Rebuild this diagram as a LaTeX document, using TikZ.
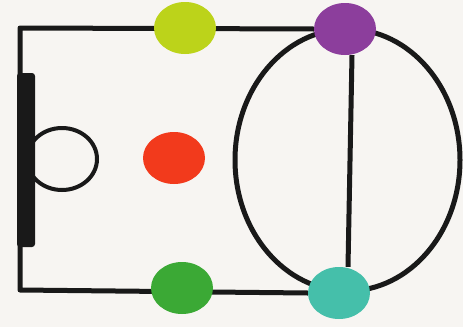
\documentclass[tikz,border=0pt]{standalone}
\usepackage{tikz}
\usetikzlibrary{shapes.geometric,backgrounds}
\definecolor{lima}{HTML}{BCD31A}
\definecolor{rojo}{HTML}{F23A1C}
\definecolor{verde}{HTML}{3BA935}
\definecolor{morado}{HTML}{8C3E9C}
\definecolor{turquesa}{HTML}{45BFAA}
\definecolor{fondo}{HTML}{F7F5F2}
\tikzset{
  dot/.style={ellipse,minimum width=62pt,minimum height=52pt,inner sep=0pt},
  linea/.style={line width=5pt,black!90}
}
\begin{document}
\begin{tikzpicture}[x=1pt,y=-1pt]
    \useasboundingbox (0,0) rectangle (463,327);
    \node[dot,fill=lima] (a) at (185,28) {};
    \node[dot,fill=rojo] (b) at (174,158) {};
    \node[dot,fill=verde] (c) at (182,288) {};
    \node[dot,fill=morado] (d) at (345,29) {};
    \node[dot,fill=turquesa] (e) at (339,293) {};
    \coordinate (tl) at (20,28);
    \coordinate (bl) at (20,290);
    \begin{scope}[on background layer]
      \fill[fondo] (0,0) rectangle (463,327);
      \draw[linea,line join=round] (d.west) -- (tl) -- (bl) -- (e.west);
      \draw[linea] ([xshift=7pt]d.south) -- ([xshift=9pt]e.north);
      \draw[linea] (347.5,160) ellipse (112.5 and 131);
    \end{scope}
    % porteria
    \fill[black!90,rounded corners=3pt] (17,73) rectangle (35,247);
    \draw[line width=4pt,black!90] (62,159) ellipse (35 and 31);
  \end{tikzpicture}
\end{document}
